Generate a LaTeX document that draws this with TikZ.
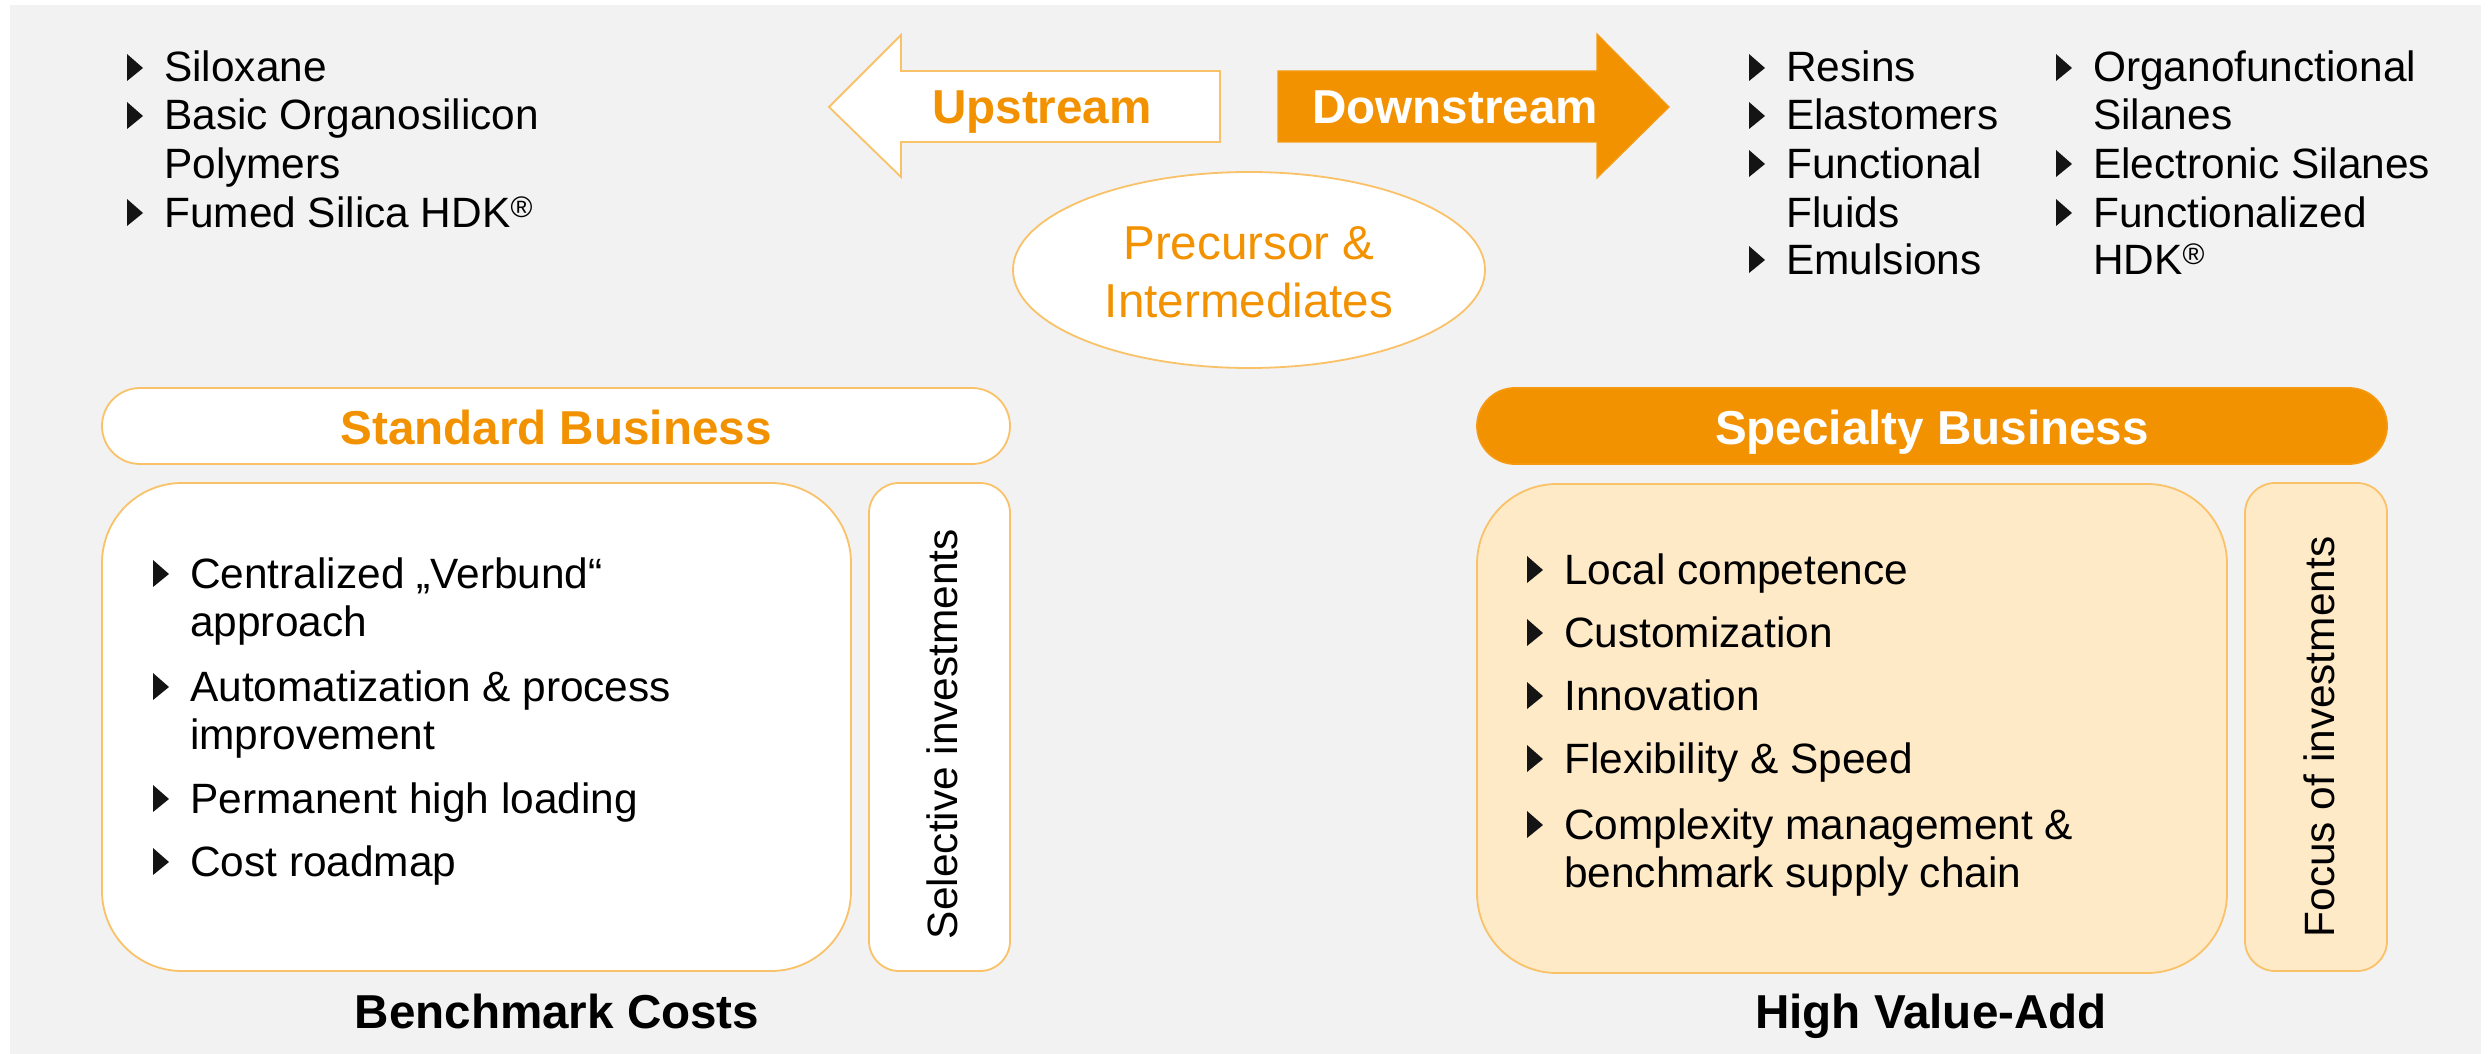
\documentclass[tikz,border=0pt]{standalone}
\usepackage{fontspec}
\setmainfont{Liberation Sans}
\definecolor{bg}{RGB}{242,242,242}
\definecolor{wor}{RGB}{243,146,0}
\definecolor{lor}{RGB}{250,194,104}
\definecolor{peach}{RGB}{255,234,200}
\definecolor{bulc}{RGB}{20,20,20}
\newcommand\bl[4]{%
  \fill[bulc] (#2,#3-28) -- (#2+16,#3-14) -- (#2,#3-1) -- cycle;
  \node[body] (#1) at (#2+37,#3) {#4};}
\newcommand\cl[4]{\node[body] (#1) at (#2+37,#3) {#4};}
\begin{document}
\begin{tikzpicture}[x=1pt,y=-1pt,
  body/.style={font=\fontsize{42.4}{48}\selectfont, inner sep=0pt, anchor=base west, text=black},
  head/.style={font=\fontsize{47.6}{57}\selectfont\bfseries, inner sep=0pt, anchor=base},
  obox/.style={draw=lor, line width=1.8pt},
  side/.style={obox, rounded corners=30pt, inner sep=0pt},
  vtext/.style={font=\fontsize{42.4}{48}\selectfont, rotate=90, inner sep=0pt, anchor=base}]
\useasboundingbox (0,0) rectangle (2492,1054);
\fill[bg] (10,5) rectangle (2481,1054);

% arrows
\draw[obox, fill=white, line join=miter] (829,107) -- (901,35) -- (901,71) -- (1220,71) -- (1220,142) -- (901,142) -- (901,177) -- cycle;
\node[head, text=wor] (up) at (1042,124) {Upstream};
\draw[draw=wor!80!lor, line width=1.2pt, fill=wor, line join=miter] (1278,71) -- (1597,71) -- (1597,34) -- (1669,107) -- (1597,178) -- (1597,142) -- (1278,142) -- cycle;
\node[head, text=white] (down) at (1455,124) {Downstream};

% ellipse
\draw[obox, fill=white] (1249,270) ellipse [x radius=236, y radius=98];
\node[font=\fontsize{47.6}{57}\selectfont, inner sep=0pt, anchor=base, text=wor] (pre1) at (1249,259) {Precursor \&};
\node[font=\fontsize{47.6}{57}\selectfont, inner sep=0pt, anchor=base, text=wor] (pre2) at (1249,317) {Intermediates};

% top-left list
\bl{tl1}{127}{82}{Siloxane}
\bl{tl2}{127}{130}{Basic Organosilicon}
\cl{tl3}{127}{178}{Polymers}
\bl{tl4}{127}{227}{Fumed Silica HDK\textsuperscript{®}}

% top-right lists
\bl{tr1}{1749}{82}{Resins}
\bl{tr2}{1749}{130}{Elastomers}
\bl{tr3}{1749}{178}{Functional}
\cl{tr4}{1749}{227}{Fluids}
\bl{tr5}{1749}{274}{Emulsions}
\bl{tq1}{2056}{82}{Organofunctional}
\cl{tq2}{2056}{130}{Silanes}
\bl{tq3}{2056}{178}{Electronic Silanes}
\bl{tq4}{2056}{227}{Functionalized}
\cl{tq5}{2056}{274}{HDK\textsuperscript{®}}

% Standard business
\node[obox, fill=white, rounded corners=38pt, minimum width=908pt, minimum height=76pt, inner sep=0pt] (stdh) at (556,426) {};
\node[head, text=wor] (stdt) at (556,444) {Standard Business};
\node[obox, fill=white, rounded corners=80pt, minimum width=749pt, minimum height=488pt, inner sep=0pt] (stdm) at (476.5,727) {};
\node[side, fill=white, minimum width=141pt, minimum height=488pt] (stds) at (939.5,727) {};
\node[vtext] (stdv) at (957,734) {Selective investments};
\bl{s1}{153}{588}{Centralized „Verbund“}
\cl{s2}{153}{636}{approach}
\bl{s3}{153}{701}{Automatization \& process}
\cl{s4}{153}{749}{improvement}
\bl{s5}{153}{813}{Permanent high loading}
\bl{s6}{153}{876}{Cost roadmap}
\node[head, text=black] (stdb) at (557,1028) {Benchmark Costs};

% Specialty business
\node[draw=wor!85!lor, line width=1.8pt, fill=wor, rounded corners=38pt, minimum width=910pt, minimum height=76pt, inner sep=0pt] (sph) at (1932,426) {};
\node[head, text=white] (spt) at (1932,444) {Specialty Business};
\node[obox, fill=peach, rounded corners=80pt, minimum width=750pt, minimum height=489pt, inner sep=0pt] (spm) at (1852,728.5) {};
\node[side, fill=peach, minimum width=142pt, minimum height=488pt] (sps) at (2316,727) {};
\node[vtext] (spv) at (2334,737) {Focus of investments};
\bl{p1}{1527}{584}{Local competence}
\bl{p2}{1527}{647}{Customization}
\bl{p3}{1527}{710}{Innovation}
\bl{p4}{1527}{773}{Flexibility \& Speed}
\bl{p5}{1527}{839}{Complexity management \&}
\cl{p6}{1527}{887}{benchmark supply chain}
\node[head, text=black] (spb) at (1931,1028) {High Value-Add};
\end{tikzpicture}
\end{document}
